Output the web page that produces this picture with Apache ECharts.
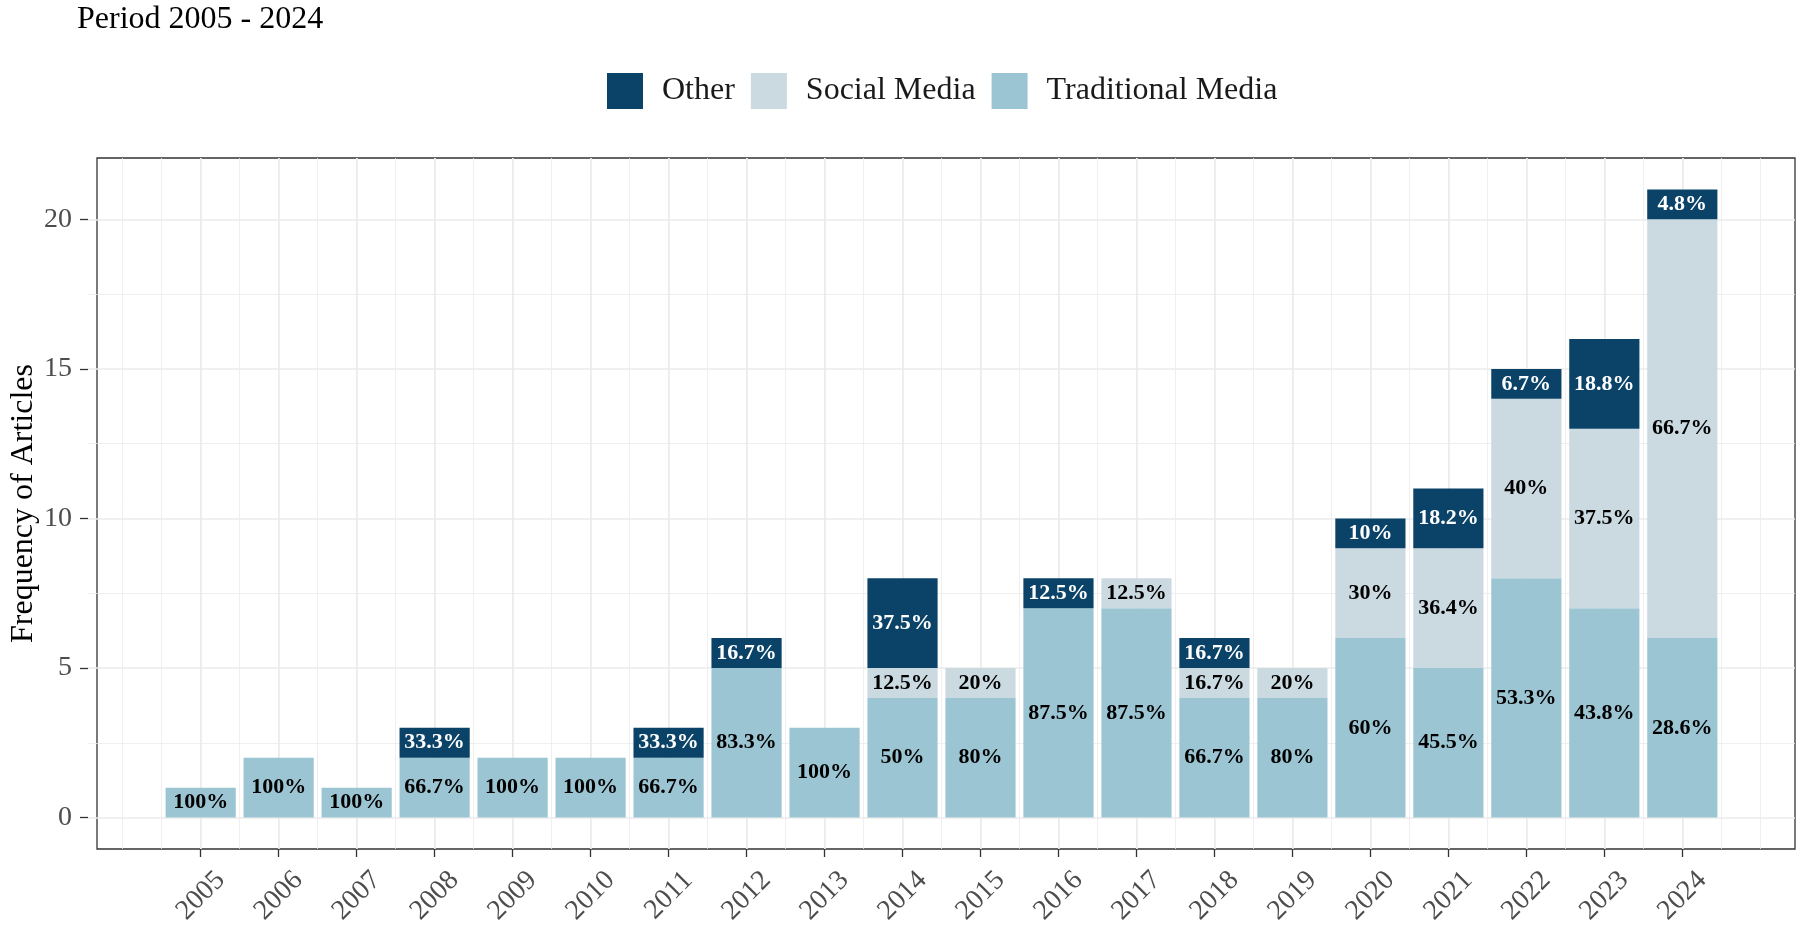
<!DOCTYPE html>
<html>
<head>
<meta charset="utf-8">
<title>Frequency of Articles 2005 - 2024</title>
<script src="https://cdn.jsdelivr.net/npm/echarts@6/dist/echarts.min.js"></script>
<style>
  html, body { margin: 0; padding: 0; background: #fff; }
  #chart { width: 1800px; height: 928px; }
</style>
</head>
<body>
<div id="chart"></div>
<script>
// data
const years = [2005, 2006, 2007, 2008, 2009, 2010, 2011, 2012, 2013, 2014,
               2015, 2016, 2017, 2018, 2019, 2020, 2021, 2022, 2023, 2024];
const traditional = [1, 2, 1, 2, 2, 2, 2, 5, 3, 4, 4, 7, 7, 4, 4, 6, 5, 8, 7, 6];
const social      = [0, 0, 0, 0, 0, 0, 0, 0, 0, 1, 1, 0, 1, 1, 1, 3, 4, 6, 6, 14];
const other       = [0, 0, 0, 1, 0, 0, 1, 1, 0, 3, 0, 1, 0, 1, 0, 1, 2, 1, 3, 1];
const yTicks = [0, 5, 10, 15, 20];

const FONT = "'Liberation Serif', 'DejaVu Serif', serif";
const colors = {
  other: "#0a4268",
  social: "#cbd9e1",
  traditional: "#9cc5d3",
  grid: "#ebebeb",
  border: "#333333",
  axisText: "#4d4d4d",
};

// panel geometry (px), same scale for every grid
const panel = { left: 88, right: 1795, top: 158, bottom: 849 };
const xMin = 2003.555, xMax = 2025.445;
const yMin = -1.05, yMax = 22.05;
const pxX = (panel.right - panel.left) / (xMax - xMin);
const pxY = (panel.bottom - panel.top) / (yMax - yMin);
const W = 1800, H = 928;

// grid that covers value range [a,b] on x, full panel height
const xGrid = (a, b, shift) => ({
  left: panel.left + (a - xMin) * pxX + (shift || 0),
  right: W - (panel.left + (b - xMin) * pxX) - (shift || 0),
  top: panel.top,
  bottom: H - panel.bottom,
});
// grid that covers value range [a,b] on y, full panel width
const yGrid = (a, b) => ({
  left: panel.left,
  right: W - panel.right,
  top: panel.top + (yMax - b) * pxY,
  bottom: H - (panel.top + (yMax - a) * pxY),
});

const totals = years.map((_, i) => traditional[i] + social[i] + other[i]);
const pct = (v, i) => {
  if (!v) return "";
  const p = Math.round((v / totals[i]) * 1000) / 10;
  return p + "%";
};

const hidden = { show: false };
const barSeries = (name, values, color, textColor) => ({
  name: name,
  type: "bar",
  stack: "total",
  xAxisIndex: 0,
  yAxisIndex: 0,
  barWidth: "90%",
  itemStyle: { color: color },
  label: {
    show: true,
    position: "inside",
    fontFamily: FONT,
    fontWeight: "bold",
    fontSize: 22,
    color: textColor,
    formatter: (p) => pct(values[p.dataIndex], p.dataIndex),
  },
  data: values,
});

const chart = echarts.init(document.getElementById("chart"));
chart.setOption({
  animation: false,
  title: {
    text: "Period 2005 - 2024",
    left: 77,
    top: 4,
    padding: 0,
    textStyle: { fontFamily: FONT, fontWeight: "normal", fontSize: 32, color: "#000" },
  },
  legend: {
    data: ["Other", "Social Media", "Traditional Media"],
    left: 602,
    top: 68,
    icon: "rect",
    itemWidth: 36,
    itemHeight: 36,
    itemGap: 16,
    textStyle: { fontFamily: FONT, fontSize: 32, color: "#1a1a1a", padding: [0, 0, 0, 14] },
  },
  grid: [
    // bars: one category band per year, covering 2004.5 .. 2024.5
    xGrid(2004.5, 2024.5),
    // panel frame
    { left: panel.left, right: W - panel.right, top: panel.top, bottom: H - panel.bottom,
      show: true, borderColor: colors.border, borderWidth: 1.3, backgroundColor: "transparent" },
    xGrid(2005, 2024),      // major x lines + ticks
    xGrid(2004, 2025),      // minor x lines
    yGrid(0, 20),           // major y lines + labels
    yGrid(2.5, 17.5),       // minor y lines
    xGrid(2005, 2024, 10),  // rotated year labels
  ],
  xAxis: [
    { type: "category", gridIndex: 0, data: years, boundaryGap: true, show: false },
    { type: "value", gridIndex: 1, show: false },
    {
      type: "value", gridIndex: 2, min: 2005, max: 2024, interval: 1,
      axisLine: hidden, axisLabel: hidden,
      axisTick: { show: true, length: 8, lineStyle: { color: colors.border, width: 1.3 } },
      splitLine: { show: true, lineStyle: { color: colors.grid, width: 1.6 } },
    },
    {
      type: "value", gridIndex: 3, min: 2004, max: 2025, interval: 0.5,
      axisLine: hidden, axisTick: hidden, axisLabel: hidden,
      splitLine: { show: true, lineStyle: { color: colors.grid, width: 0.8 } },
    },
    { type: "value", gridIndex: 4, show: false },
    { type: "value", gridIndex: 5, show: false },
    {
      type: "value", gridIndex: 6, min: 2005, max: 2024, interval: 1,
      axisLine: hidden, axisTick: hidden, splitLine: hidden,
      axisLabel: {
        rotate: 45, align: "right", verticalAlign: "top", margin: 17,
        fontFamily: FONT, fontSize: 28, color: colors.axisText,
        formatter: (v) => String(years[Math.round(v) - years[0]]),
      },
    },
  ],
  yAxis: [
    { type: "value", gridIndex: 0, min: yMin, max: yMax, show: false },
    {
      type: "value", gridIndex: 1, min: yMin, max: yMax,
      name: "Frequency of Articles", nameLocation: "middle", nameGap: 57,
      nameTextStyle: { fontFamily: FONT, fontSize: 32, color: "#000" },
      axisLine: hidden, axisTick: hidden, axisLabel: hidden, splitLine: hidden,
    },
    { type: "value", gridIndex: 2, show: false },
    { type: "value", gridIndex: 3, show: false },
    {
      type: "value", gridIndex: 4, min: yTicks[0], max: yTicks[yTicks.length - 1], interval: 5,
      axisLine: hidden,
      axisTick: { show: true, length: 8, lineStyle: { color: colors.border, width: 1.3 } },
      axisLabel: { margin: 16, fontFamily: FONT, fontSize: 28, color: colors.axisText },
      splitLine: { show: true, lineStyle: { color: colors.grid, width: 1.6 } },
    },
    {
      type: "value", gridIndex: 5, min: 2.5, max: 17.5, interval: 5,
      axisLine: hidden, axisTick: hidden, axisLabel: hidden,
      splitLine: { show: true, lineStyle: { color: colors.grid, width: 0.8 } },
    },
    { type: "value", gridIndex: 6, show: false },
  ],
  series: [
    barSeries("Traditional Media", traditional, colors.traditional, "#000"),
    barSeries("Social Media", social, colors.social, "#000"),
    barSeries("Other", other, colors.other, "#fff"),
  ],
});
</script>
</body>
</html>
